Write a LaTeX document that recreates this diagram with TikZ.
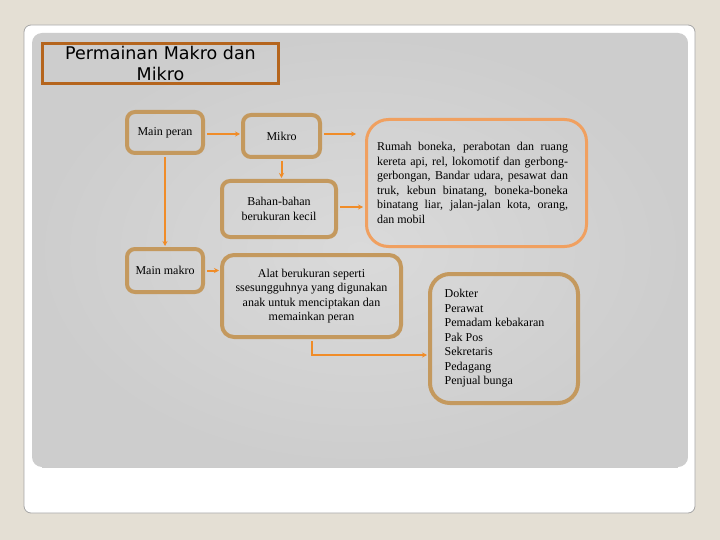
\documentclass[tikz,border=0pt]{standalone}
\usepackage{fontspec}
\setmainfont{Liberation Serif}
\newfontfamily\titlefont{DejaVu Sans}
\usetikzlibrary{arrows.meta,calc}
\definecolor{bgbeige}{RGB}{228,223,212}
\definecolor{panelin}{RGB}{218,218,218}
\definecolor{panelout}{RGB}{205,205,205}
\definecolor{titlebrown}{RGB}{181,101,29}
\definecolor{tanc}{RGB}{196,153,94}
\definecolor{lightorange}{RGB}{240,160,96}
\definecolor{connorange}{RGB}{240,140,40}
\tikzset{
  tanbox/.style={draw=tanc, line width=4pt, rounded corners=8pt, inner sep=0pt, align=center, font=\fontsize{12}{14.5}\selectfont},
  orangebox/.style={draw=lightorange, line width=3pt, rounded corners=22pt, inner sep=0pt, font=\fontsize{12}{14.5}\selectfont},
  conn/.style={draw=connorange, line width=2pt, -{Stealth[length=5pt,width=5pt]}},
}
\begin{document}
\begin{tikzpicture}[x=1pt,y=-1pt]
\useasboundingbox (0,0) rectangle (720,540);
\fill[bgbeige] (0,0) rectangle (720,540);
% white card
\filldraw[fill=white, draw=black!35, line width=0.8pt, rounded corners=7pt] (24,25) rectangle (695,513);
% gray panel
\shade[inner color=panelin, outer color=panelout, rounded corners=10pt] (32,33) rectangle (688,467);
\draw[black!20, line width=0.6pt] (42,467) -- (678,467);

% title
\node[draw=titlebrown, line width=3pt, minimum width=236pt, minimum height=40pt, inner sep=0pt,
      align=center, font=\titlefont\fontsize{17.5}{21.5}\selectfont] (title) at (160.5,63.5)
  {Permainan Makro dan\\Mikro};

% boxes
\node[tanbox, minimum width=76pt, minimum height=41pt] (mainperan) at (165,132.5) {Main peran};
\node[tanbox, minimum width=77pt, minimum height=42pt] (mikro) at (281.5,136) {Mikro};
\node[tanbox, minimum width=114pt, minimum height=56pt] (bahan) at (279,209) {Bahan-bahan\\berukuran kecil};
\node[tanbox, minimum width=76pt, minimum height=43pt] (mainmakro) at (165,270.5) {Main makro};
\node[tanbox, minimum width=179pt, minimum height=82pt, rounded corners=12pt] (alat) at (311.5,296)
  {Alat berukuran seperti\\ssesungguhnya yang digunakan\\anak untuk menciptakan dan\\memainkan peran};
\node[orangebox, minimum width=220pt, minimum height=127pt] (rumah) at (476.5,183)
  {\hspace*{-8pt}\parbox{191pt}{\fontsize{12}{14.5}\selectfont
   \makebox[191pt][s]{Rumah boneka, perabotan dan ruang}\\
   \makebox[191pt][s]{kereta api, rel, lokomotif dan gerbong-}\\
   \makebox[191pt][s]{gerbongan, Bandar udara, pesawat dan}\\
   \makebox[191pt][s]{truk, kebun binatang, boneka-boneka}\\
   \makebox[191pt][s]{binatang liar, jalan-jalan kota, orang,}\\
   dan mobil}};
\node[tanbox, minimum width=148pt, minimum height=129pt, rounded corners=20pt] (dokter) at (504,338.5)
  {\hspace*{-19pt}\begin{tabular}{@{}l@{}}Dokter\\Perawat\\Pemadam kebakaran\\Pak Pos\\Sekretaris\\Pedagang\\Penjual bunga\end{tabular}};

% connectors
\draw[conn, shorten <=2pt, shorten >=1pt] ($(mainperan.east)+(0,1.5)$) -- ($(mainperan.east -| mikro.west)+(0,1.5)$);
\draw[conn, shorten <=2pt] ($(mikro.east)+(0,-2)$) -- ($(mikro.east -| rumah.west)+(-9,-2)$);
\draw[conn, shorten <=2pt, shorten >=1pt] (mikro.south) -- (mikro.south |- bahan.north);
\draw[conn, shorten <=2pt, shorten >=2pt] ($(bahan.east)+(0,-2)$) -- ($(bahan.east -| rumah.west)+(0,-2)$);
\draw[conn, shorten <=2pt, shorten >=1pt] (mainperan.south) -- (mainmakro.north);
\draw[conn, shorten <=2pt, shorten >=1pt] (mainmakro.east) -- (mainmakro.east -| alat.west);
\draw[conn, shorten <=2pt, shorten >=1pt] (alat.south) |- ($(dokter.west)+(0,16.5)$);
\end{tikzpicture}
\end{document}
